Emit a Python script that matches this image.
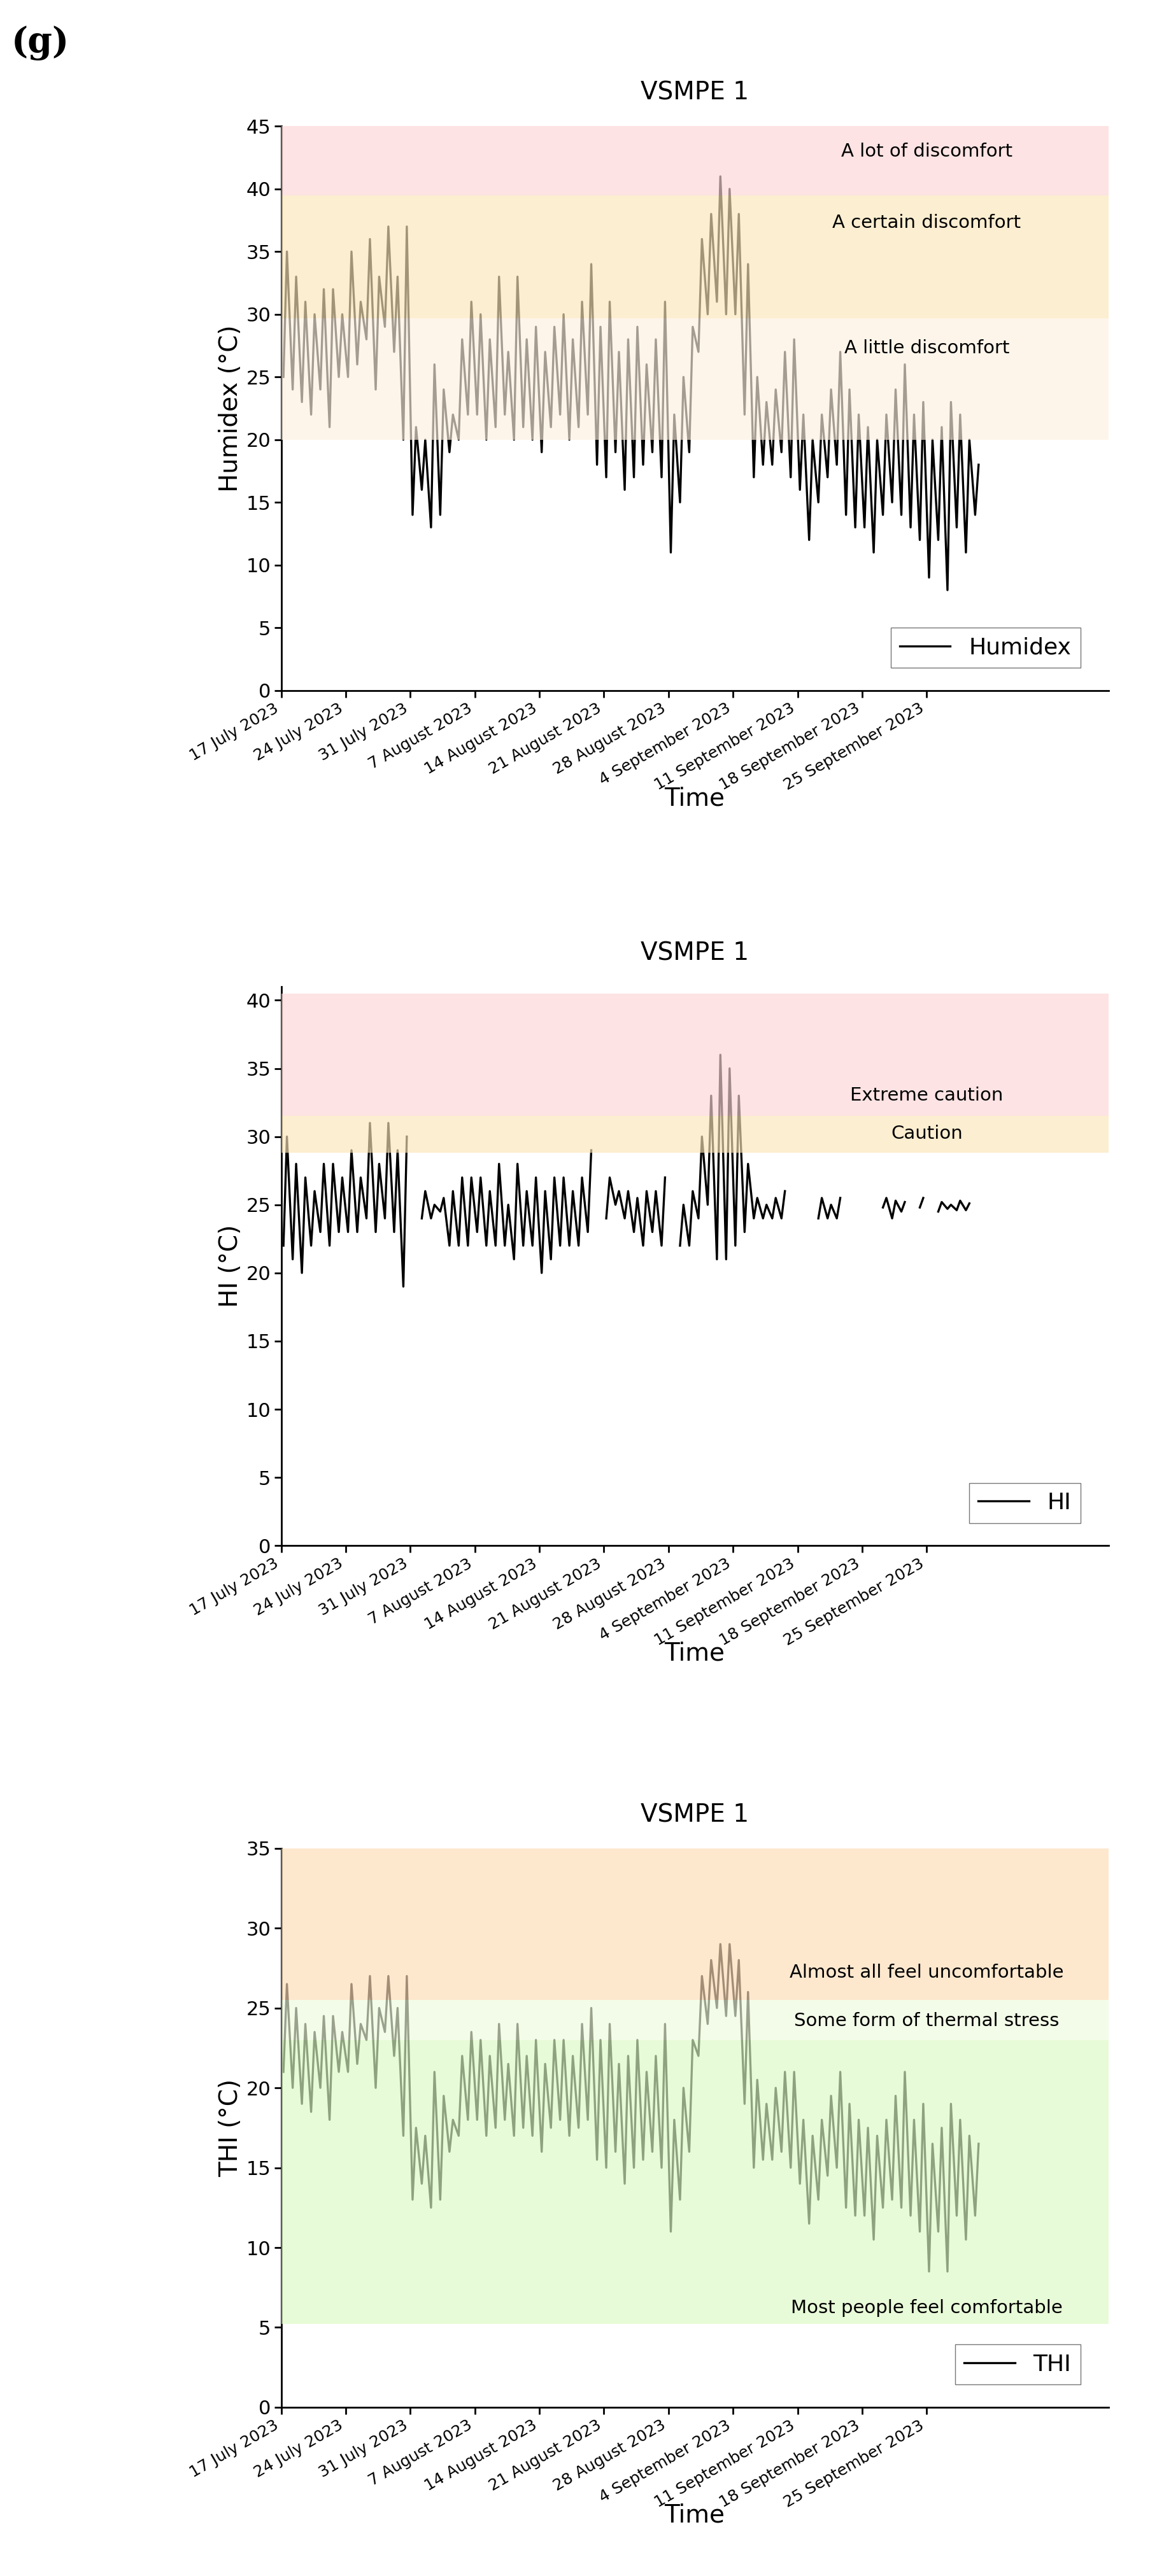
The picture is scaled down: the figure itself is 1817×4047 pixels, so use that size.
import numpy as np, pandas as pd, matplotlib
matplotlib.use("Agg")
import matplotlib.pyplot as plt, seaborn as sns

start = "2023-07-17"
hum_max = [35,33,31,30,32,32,30, 35,31,36,33,37,33,37, 21,20,26,24,22,28,31,
           30,28,33,27,33,28,29, 27,29,30,28,31,34,29, 31,27,28,29,26,28,31,
           22,25,29,36,38,41,40, 38,34,25,23,24,27,28, 22,20,22,24,27,24,22,
           21,20,22,24,26,22,23, 20,21,23,22,20,18]
hum_min = [25,24,23,22,24,21,25, 25,26,28,24,29,27,20, 14,16,13,14,19,20,22,
           22,20,21,22,20,21,20, 19,21,22,20,21,22,18, 17,19,16,17,18,19,17,
           11,15,19,27,30,31,30, 30,22,17,18,18,19,17, 16,12,15,17,18,14,13,
           13,11,14,15,14,13,12, 9,12,8,13,11,14]
thi_max = [26.5,25,24,23.5,24.5,24.5,23.5, 26.5,24,27,25,27,25,27, 17.5,17,21,19.5,18,22,23.5,
           23,22,24,21.5,24,22,23, 21.5,23,23,22,24,25,23, 24,21.5,22,23,21,22,24,
           18,20,23,27,28,29,29, 28,26,20.5,19,20,21,21, 18,17,18,19.5,21,19,18,
           17.5,17,18,19.5,21,18,19, 16.5,17.5,19,18,17,16.5]
thi_min = [21,20,19,18.5,20,18,21, 21,21.5,23,20,23.5,22,17, 13,14,12.5,13,16,17,18,
           18,17,17.5,18,17,17.5,17, 16,17.5,18,17,17.5,18,15.5, 15,16,14,15,15.5,16,15,
           11,13,16,22,24,25,24.5, 24.5,19,15,15.5,15.5,16,15, 14,11.5,13,14.5,15,12.5,12,
           12,10.5,12.5,13,12.5,12,11, 8.5,11,8.5,12,10.5,12]
hi_max = [30,28,27,26,28,28,27, 29,27,31,28,31,29,30, np.nan,26,25,25.5,26,27,27,
          27,26,28,25,28,26,27, 26,27,27,26,27,29,np.nan, 27,26,26,25.5,26,26,27,
          np.nan,25,26,30,33,36,35, 33,28,25.5,25,25.5,26,np.nan, np.nan,np.nan,25.5,25,25.5,np.nan,np.nan,
          np.nan,np.nan,25.5,25.3,25.2,np.nan,25.5, np.nan,25.2,25,25.3,25.1,np.nan]
hi_min = [22,21,20,22,23,22,23, 23,23,24,23,24,23,19, np.nan,24,24,24.5,22,22,22,
          23,22,22,22,21,22,22, 20,21,22,22,22,23,np.nan, 24,25,24,23,22,23,22,
          np.nan,22,22,24,25,21,21, 22,23,24,24,24,24,np.nan, np.nan,np.nan,24,24,24,np.nan,np.nan,
          np.nan,np.nan,24.8,24,24.5,np.nan,24.8, np.nan,24.5,24.7,24.6,24.6,np.nan]

days = pd.date_range(start, periods=len(hum_max), freq="D")
def series(mx, mn):
    t, v = [], []
    for d, a, b in zip(days, mn, mx):
        t += [d + pd.Timedelta(hours=6), d + pd.Timedelta(hours=15)]
        v += [a, b]
    df = pd.DataFrame({"t": t, "v": v})
    df["seg"] = df["v"].isna().cumsum()
    return df.dropna()

ticks = pd.date_range(start, "2023-09-25", freq="7D")
tick_labels = [f"{d.day} {d.strftime('%B')} 2023" for d in ticks]

fig = plt.figure(figsize=(18.17, 40.47), dpi=100)
specs = [
    ([0.243, 0.732, 0.715, 0.219], series(hum_max, hum_min), "Humidex", "Humidex (°C)", 45, 5,
     [(39.5, 45, "#fcd5d5", "A lot of discomfort", 43), (29.7, 39.5, "#fbe6b8", "A certain discomfort", 37.3),
      (20, 29.7, "#fdf0e0", "A little discomfort", 27.3)]),
    ([0.243, 0.400, 0.715, 0.217], series(hi_max, hi_min), "HI", "HI (°C)", 41, 5,
     [(31.5, 40.5, "#fcd5d5", "Extreme caution", 33), (28.8, 31.5, "#fbe6b8", "Caution", 30.2)]),
    ([0.243, 0.0655, 0.715, 0.217], series(thi_max, thi_min), "THI", "THI (°C)", 35, 5,
     [(25.5, 35, "#fcdcb5", "Almost all feel uncomfortable", 27.2), (23, 25.5, "#eefbdc", "Some form of thermal stress", 24.2),
      (5.2, 23, "#dcfac4", "Most people feel comfortable", 6.2)]),
]
xl = (pd.Timestamp(start), pd.Timestamp(start) + pd.Timedelta(days=89.7))
for rect, df, name, ylab, ymax, step, bands in specs:
    ax = fig.add_axes(rect)
    sns.lineplot(data=df, x="t", y="v", units="seg", estimator=None, color="black", lw=2.4, ax=ax, zorder=2)
    ax.plot([], [], color="black", lw=2.4, label=name)
    for lo, hi, c, txt, ty in bands:
        ax.axhspan(lo, hi, color=c, alpha=0.65, zorder=3, lw=0)
        ax.text(xl[0] + pd.Timedelta(days=70), ty, txt, ha="center", va="center", fontsize=21, zorder=4)
    ax.set_xlim(*xl); ax.set_ylim(0, ymax)
    ax.set_yticks(np.arange(0, ymax + 0.1, step))
    ax.set_xticks(ticks); ax.set_xticklabels(tick_labels, rotation=30, ha="right", fontsize=18)
    ax.tick_params(axis="y", labelsize=22, width=2, length=8)
    ax.tick_params(axis="x", width=2, length=8)
    ax.set_ylabel(ylab, fontsize=28); ax.set_xlabel("Time", fontsize=28, labelpad=-8)
    ax.set_title("VSMPE 1", fontsize=28, pad=30)
    for s in ["top", "right"]: ax.spines[s].set_visible(False)
    for s in ["left", "bottom"]: ax.spines[s].set_linewidth(2)
    leg = ax.legend(loc="lower right", bbox_to_anchor=(0.98, 0.02), fontsize=26, fancybox=False,
                    edgecolor="#555", handlelength=2.2)
    leg.set_zorder(5)
fig.text(0.01, 0.99, "(g)", fontsize=40, fontweight="bold", family="DejaVu Serif", va="top")
fig.savefig("out.png", dpi=100)
